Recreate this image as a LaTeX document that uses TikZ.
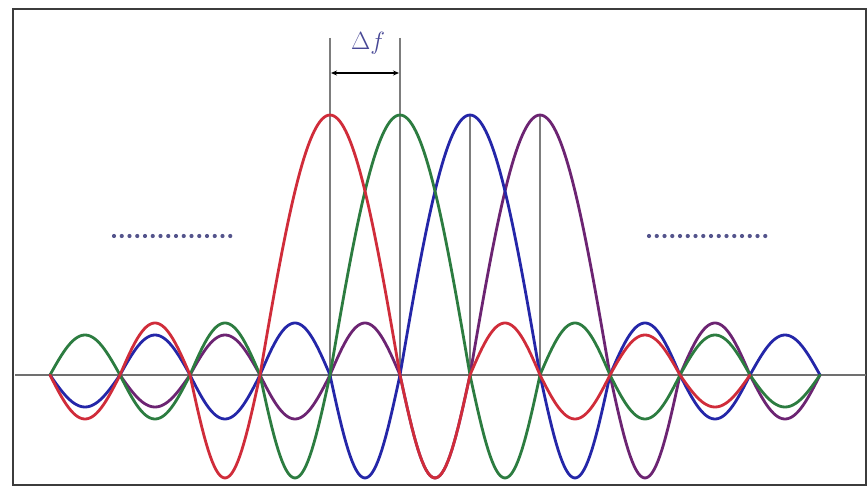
\documentclass[tikz,border=0pt]{standalone}
\usetikzlibrary{arrows.meta}
\definecolor{cred}{RGB}{208,44,58}
\definecolor{cgreen}{RGB}{44,124,64}
\definecolor{cblue}{RGB}{36,38,168}
\definecolor{cpurple}{RGB}{108,36,114}
\definecolor{caxis}{RGB}{112,112,112}
\definecolor{cvert}{RGB}{125,125,125}
\definecolor{cdot}{RGB}{84,84,140}
\definecolor{clabel}{RGB}{72,72,150}
\definecolor{cframe}{RGB}{60,60,60}
\tikzset{
  wave/.style={line width=2.8pt, line join=round, line cap=round},
  vline/.style={cvert, line width=1.4pt},
  dotmark/.style={fill=cdot, draw=none},
  declare function={
    lobeamp(\n)=(\n==1)*103+(\n==2)*52+(\n==3)*44+(\n==4)*40+(\n>=5)*32;
    lobesgn(\n)=ifthenelse(isodd(\n),-1,1);
    wshape(\u)=ifthenelse(floor(\u)==0,260*cos(90*\u),lobesgn(floor(\u))*lobeamp(floor(\u))*sin(180*(\u-floor(\u))));
    wav(\x,\p)=wshape(abs(\x-\p)/70);
  }
}
\begin{document}
\begin{tikzpicture}[x=1pt,y=-1pt]
\useasboundingbox (0,0) rectangle (868,487);
\fill[white] (0,0) rectangle (868,487);
% frame
\draw[cframe, line width=2pt] (13,9) rectangle (866,485);
% axis
\coordinate (axl) at (15,375);
\coordinate (axr) at (866,375);
\draw[caxis, line width=2.4pt] (axl) -- (axr);
% vertical lines
\coordinate (v1t) at (330,38);  \coordinate (v1b) at (330,375);
\coordinate (v2t) at (400,38);  \coordinate (v2b) at (400,375);
\coordinate (v3t) at (470,115); \coordinate (v3b) at (470,375);
\coordinate (v4t) at (540,115); \coordinate (v4b) at (540,375);
\draw[vline] (v1t) -- (v1b);
\draw[vline] (v2t) -- (v2b);
\draw[vline] (v3t) -- (v3b);
\draw[vline] (v4t) -- (v4b);
% curves
\draw[wave, cpurple] plot[domain=120:820, samples=351] (\x, {375 - wav(\x,540)});
\draw[wave, cblue]   plot[domain=50:820, samples=386] (\x, {375 - wav(\x,470)});
\draw[wave, cgreen]  plot[domain=50:820, samples=386] (\x, {375 - wav(\x,400)});
\draw[wave, cred]    plot[domain=50:750, samples=351] (\x, {375 - wav(\x,330)});
% delta f arrow
\coordinate (da) at (331,73);
\coordinate (db) at (399,73);
\draw[black, line width=1.3pt, {Stealth[length=6pt,width=5pt]}-{Stealth[length=6pt,width=5pt]}] (da) -- (db);
\node[text=clabel, font=\fontsize{30}{34}\selectfont] (df) at (368,43) {$\Delta f$};
% dotted lines
\foreach \i in {0,...,15} {
  \fill[dotmark] ({114+7.75*\i},236) circle (2.1);
  \fill[dotmark] ({649+7.75*\i},236) circle (2.1);
}
\end{tikzpicture}
\end{document}
